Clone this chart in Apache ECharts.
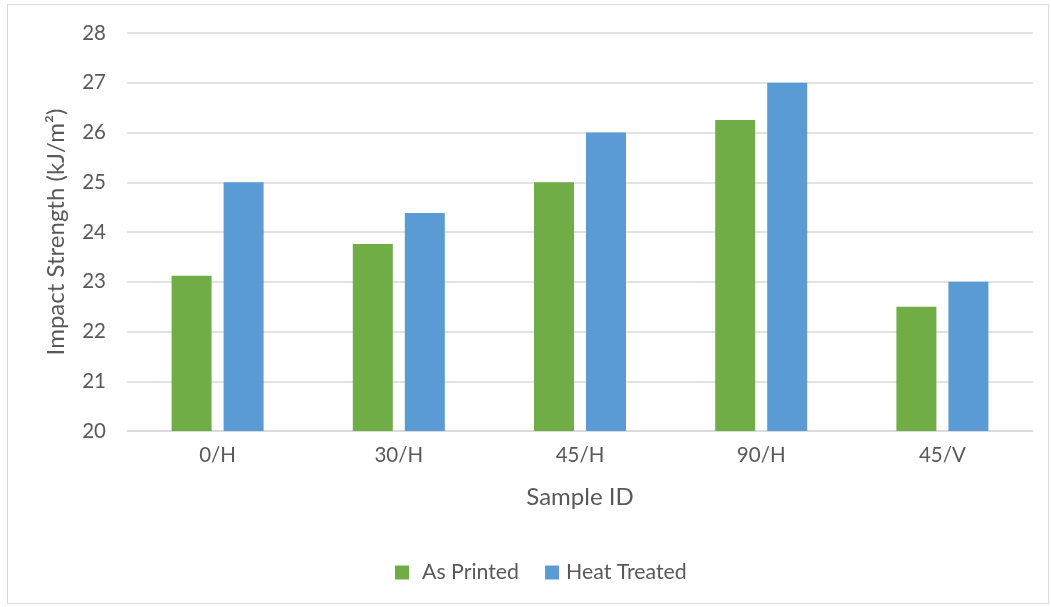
<!DOCTYPE html>
<html><head><meta charset="utf-8">
<script src="https://cdn.jsdelivr.net/npm/echarts@6/dist/echarts.min.js"></script>
<style>html,body{margin:0;padding:0;background:#fff}#c{width:1051px;height:607px}
#frame{position:absolute;left:7px;top:4px;width:1042px;height:600px;border:1px solid #d9d9d9;box-sizing:border-box;pointer-events:none}</style>
</head><body><div id="c"></div><div id="frame"></div>
<script>
const categories = ['0/H','30/H','45/H','90/H','45/V'];
const asPrinted = [23.12, 23.76, 25.0, 26.25, 22.5];
const heatTreated = [25.0, 24.38, 26.0, 27.0, 23.0];
const seriesNames = ['As Printed','Heat Treated'];
const font = 'Lato, "Open Sans", sans-serif';
const chart = echarts.init(document.getElementById('c'));
chart.setOption({
  animation:false,
  grid:{left:127,right:18,top:33,bottom:176,containLabel:false},
  legend:{top:557,left:390,itemWidth:14,itemHeight:14,itemGap:26,icon:'rect',
    textStyle:{color:'#595959',fontSize:21.3,fontFamily:font},
    data:[{name:seriesNames[0],textStyle:{padding:[0,0,0,8]}},{name:seriesNames[1],textStyle:{padding:[0,0,0,2]}}]},
  xAxis:{type:'category',data:categories,
    axisLine:{lineStyle:{color:'#d9d9d9',width:1.5}},axisTick:{show:false},
    axisLabel:{color:'#595959',fontSize:20.5,fontFamily:font,margin:14},
    name:'Sample ID',nameLocation:'middle',nameGap:54,
    nameTextStyle:{color:'#595959',fontSize:24,fontFamily:font}},
  yAxis:{type:'value',min:20,max:28,interval:1,
    axisLine:{show:false},axisTick:{show:false},
    splitLine:{lineStyle:{color:'#d9d9d9',width:1.5}},
    axisLabel:{color:'#595959',fontSize:20.5,fontFamily:font,margin:21},
    name:'Impact Strength (kJ/m²)',nameLocation:'middle',nameGap:59,
    nameTextStyle:{color:'#595959',fontSize:24,fontFamily:font}},
  series:[
    {name:seriesNames[0],type:'bar',data:asPrinted,barWidth:40,barGap:'30%',itemStyle:{color:'#70ad47'}},
    {name:seriesNames[1],type:'bar',data:heatTreated,barWidth:40,barGap:'30%',itemStyle:{color:'#5b9bd5'}}
  ]
});
</script></body></html>
